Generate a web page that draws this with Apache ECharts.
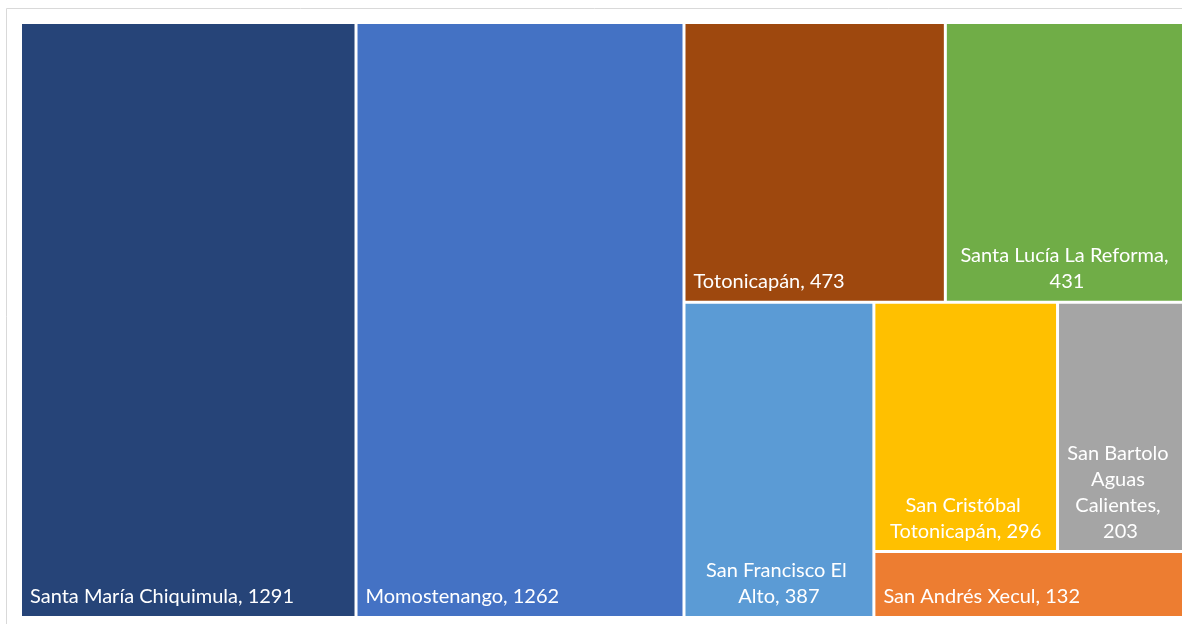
<!DOCTYPE html>
<html>
<head>
<meta charset="utf-8">
<script src="https://cdn.jsdelivr.net/npm/echarts@6/dist/echarts.min.js"></script>
<style>
  html, body { margin: 0; padding: 0; background: #fff; }
  #chart { width: 1182px; height: 624px; }
</style>
</head>
<body>
<div id="chart"></div>
<script>
// municipios y valores
const names = [
  "Santa María Chiquimula",
  "Momostenango",
  "Totonicapán",
  "Santa Lucía La Reforma",
  "San Francisco El Alto",
  "San Cristóbal Totonicapán",
  "San Bartolo Aguas Calientes",
  "San Andrés Xecul"
];
const values = [1291, 1262, 473, 431, 387, 296, 203, 132];
const colors = ["#264478", "#4472C4", "#9E480E", "#70AD47", "#5B9BD5", "#FFC000", "#A5A5A5", "#ED7D31"];
// las etiquetas que se parten en varias líneas van centradas
const wrapped = [false, false, false, true, true, true, true, false];

const chart = echarts.init(document.getElementById("chart"));

const data = names.map((n, i) => ({
  name: n,
  value: values[i],
  itemStyle: { color: colors[i] },
  label: wrapped[i]
    ? { position: "insideBottom", align: "center", padding: [0, 3, 6, 3] }
    : { position: "insideBottomLeft", align: "left", padding: [0, 8, 6, 8] }
}));

chart.setOption({
  animation: false,
  graphic: [{
    type: "rect",
    shape: { x: 6.5, y: 8.5, width: 1300, height: 700 },
    style: { fill: "none", stroke: "#d9d9d9", lineWidth: 1 },
    silent: true
  }],
  series: [{
    type: "treemap",
    left: 22,
    top: 24,
    width: 1160,
    height: 592,
    roam: false,
    nodeClick: false,
    breadcrumb: { show: false },
    sort: "desc",
    squareRatio: 1,
    levels: [{ itemStyle: { borderWidth: 0, gapWidth: 3 } }],
    itemStyle: { borderWidth: 0 },
    label: {
      show: true,
      formatter: (p) => p.name + ", " + p.value,
      color: "#fff",
      fontFamily: "Lato",
      fontSize: 20,
      lineHeight: 26,
      overflow: "break"
    },
    data: data
  }]
});
</script>
</body>
</html>
